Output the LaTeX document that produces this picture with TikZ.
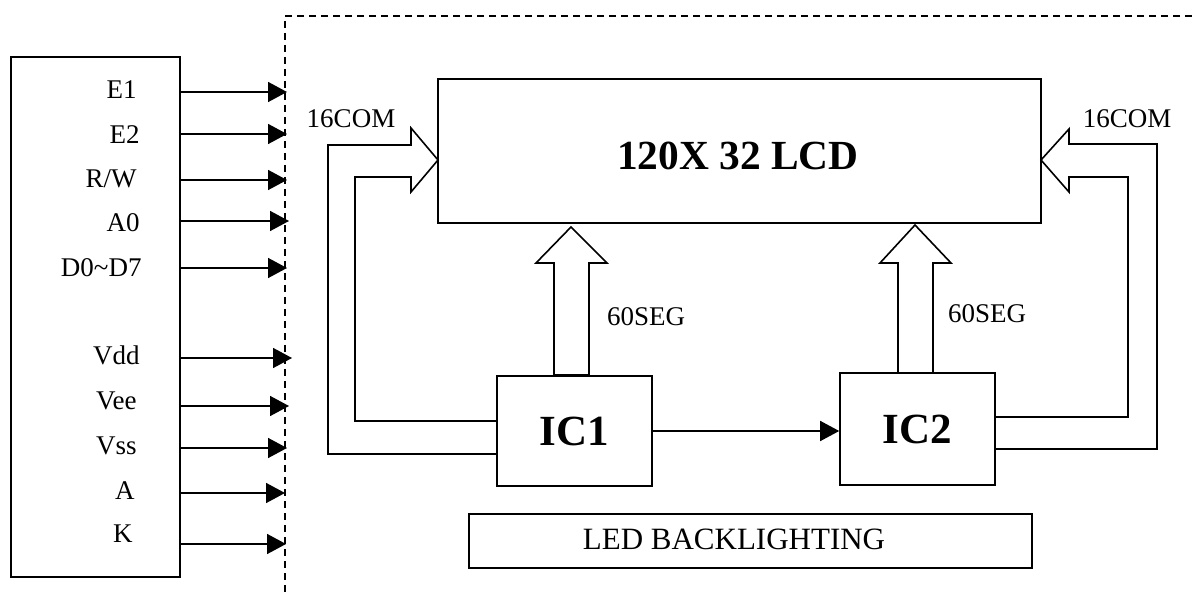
\documentclass[tikz,border=0pt]{standalone}
\usepackage{fontspec}
\setmainfont{Liberation Serif}
\usetikzlibrary{arrows.meta}

\tikzset{
  box/.style={draw, line width=0.8pt, inner sep=0pt},
  sig/.style={line width=0.8pt, -{Triangle[length=9.5pt,width=10pt]}},
  bus/.style={line width=0.8pt, line join=miter},
  lbl/.style={font=\fontsize{13.5pt}{16pt}\selectfont, inner sep=0pt},
  ledtxt/.style={font=\fontsize{15.5pt}{18pt}\selectfont, inner sep=0pt},
  big/.style={font=\fontsize{21.5pt}{25pt}\selectfont\bfseries},
}

\begin{document}
\begin{tikzpicture}[x=0.5pt,y=-0.5pt]
\useasboundingbox (0,0) rectangle (1192,592);
% module border
\draw[line width=0.8pt, dash pattern=on 3.5pt off 2.5pt] (1192,16) -- (285,16) -- (285,592);
% interface pins
\node[box, minimum width=84.5pt, minimum height=260pt] (port) at (95.5,317) {};
\foreach \y/\e/\b/\r/\t [count=\i] in {92/287/99/137/E1, 134/287/144/140/E2,
    180/287/188/137/{R/W}, 221/289/232/140/A0, 268/287/277/142/{D0\textasciitilde D7},
    358/292/365/140/Vdd, 406/289/409/137/Vee, 448/287/454/137/Vss,
    493/285/499/135/A, 544/286/542/133/K}{
  \node[lbl, anchor=base east] (pin\i) at (\r,\b) {\t};
  \draw[sig] (port.east |- 0,\y) -- (\e,\y);
}
% display and drivers
\node[box, minimum width=301.5pt, minimum height=72pt] (lcd) at (739.5,151) {};
\node[big, font=\fontsize{20.7pt}{25pt}\selectfont\bfseries, inner sep=0pt, anchor=base] (lcdname) at (738,170) {120X 32 LCD};
\node[box, big, minimum width=77.5pt, minimum height=55pt] (ic1) at (574.5,431) {IC1};
\node[box, big, minimum width=77.5pt, minimum height=56pt] (ic2) at (917.5,429) {IC2};
\draw[sig] (ic1.east) -- (ic1.east -| ic2.west);
% segment buses
\draw[bus] (554,375) -- (554,263) -- (536,263) -- (571,227) -- (607,263) -- (589,263) -- (589,375) -- cycle;
\draw[bus] (898,373) -- (898,263) -- (880,263) -- (915,225) -- (951,263) -- (933,263) -- (933,373) -- cycle;
\node[lbl] (seg1) at (646,317) {60SEG};
\node[lbl] (seg2) at (987,314) {60SEG};
% common buses
\draw[bus] (ic1.west |- 0,454) -- (328,454) -- (328,145) -- (411,145) -- (411,128) -- (438,160)
  -- (411,192) -- (411,177) -- (355,177) -- (355,421) -- (ic1.west |- 0,421);
\draw[bus] (ic2.east |- 0,449) -- (1157,449) -- (1157,144) -- (1069,144) -- (1069,129) -- (1041,160)
  -- (1069,192) -- (1069,177) -- (1128,177) -- (1128,417) -- (ic2.east |- 0,417);
\node[lbl] (com1) at (351,119) {16COM};
\node[lbl] (com2) at (1127,119) {16COM};
% backlight
\node[box, line width=1.2pt, minimum width=281.5pt, minimum height=27pt] (led) at (750.5,541) {};
\node[ledtxt] (ledname) at (734,539) {LED BACKLIGHTING};
\end{tikzpicture}
\end{document}
